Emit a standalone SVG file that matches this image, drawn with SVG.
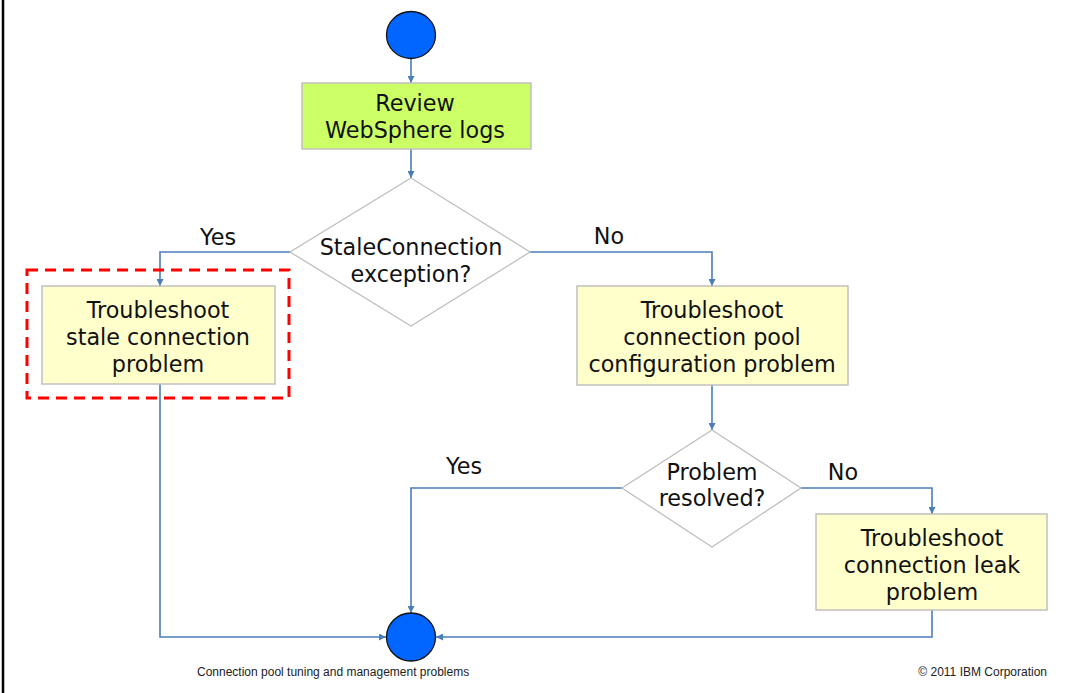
<svg xmlns="http://www.w3.org/2000/svg" width="1072" height="693" viewBox="0 0 1072 693">
<style>
.t{font-family:"DejaVu Sans","Verdana",sans-serif;font-size:22.3px;fill:#111;text-anchor:middle}
.f{font-family:"Liberation Sans",Arial,sans-serif;font-size:12px;fill:#222}
.box{fill:#ffffcc;stroke:#c0c0c0;stroke-width:1.5}
.dia{fill:#fff;stroke:#bfbfbf;stroke-width:1.3}
.term{fill:#0066ff;stroke:#111;stroke-width:1.3}
.c{fill:none;stroke:#4a7ebb;stroke-width:1.6}
</style>
<defs>
<marker id="a" viewBox="0 0 10 10" refX="10" refY="5" markerWidth="7" markerHeight="7" markerUnits="userSpaceOnUse" orient="auto">
<path d="M0,0 L10,5 L0,10 z" fill="#4a7ebb"/>
</marker>
</defs>
<rect width="1072" height="693" fill="#fff"/>
<line x1="3" y1="0" x2="3" y2="693" stroke="#000" stroke-width="2.5"/>

<g id="connectors">
<path class="c" d="M411,58 V83" marker-end="url(#a)"/>
<path class="c" d="M411,149 V178" marker-end="url(#a)"/>
<path class="c" d="M290,252 H160 V286" marker-end="url(#a)"/>
<path class="c" d="M530,252 H712 V286" marker-end="url(#a)"/>
<path class="c" d="M712,385 V430" marker-end="url(#a)"/>
<path class="c" d="M622,488 H411 V613" marker-end="url(#a)"/>
<path class="c" d="M801,488 H932 V514" marker-end="url(#a)"/>
<path class="c" d="M160,384 V637 H386" marker-end="url(#a)"/>
<path class="c" d="M932,610 V637 H436" marker-end="url(#a)"/>
<text class="t" x="218" y="245">Yes</text>
<text class="t" x="609" y="244">No</text>
<text class="t" x="464" y="474">Yes</text>
<text class="t" x="843" y="480">No</text>
</g>

<g id="start"><ellipse class="term" cx="411" cy="35" rx="24.5" ry="23.5"/></g>

<g id="review">
<rect x="302" y="83" width="229" height="66" fill="#ccff66" stroke="#c0c0c0" stroke-width="1.5"/>
<text class="t" x="415" y="111">Review</text>
<text class="t" x="415" y="138">WebSphere logs</text>
</g>

<g id="decision1">
<polygon class="dia" points="411,178 530,252 411,326 290,252"/>
<text class="t" x="411" y="255">StaleConnection</text>
<text class="t" x="411" y="282">exception?</text>
</g>

<g id="stale">
<rect x="27" y="270" width="262" height="128" fill="none" stroke="#ff0000" stroke-width="3" stroke-dasharray="11,7"/>
<rect class="box" x="42" y="286" width="233" height="98"/>
<text class="t" x="158" y="318">Troubleshoot</text>
<text class="t" x="158" y="345">stale connection</text>
<text class="t" x="158" y="372">problem</text>
</g>

<g id="pool">
<rect class="box" x="577" y="286" width="271" height="99"/>
<text class="t" x="712" y="318">Troubleshoot</text>
<text class="t" x="712" y="345">connection pool</text>
<text class="t" x="712" y="372">configuration problem</text>
</g>

<g id="decision2">
<polygon class="dia" points="712,430 801,488 712,547 622,488"/>
<text class="t" x="712" y="480">Problem</text>
<text class="t" x="712" y="506">resolved?</text>
</g>

<g id="leak">
<rect class="box" x="816" y="514" width="231" height="96"/>
<text class="t" x="932" y="546">Troubleshoot</text>
<text class="t" x="932" y="573">connection leak</text>
<text class="t" x="932" y="600">problem</text>
</g>

<g id="end"><ellipse class="term" cx="411" cy="637" rx="24.5" ry="24"/></g>

<text class="f" x="197" y="676">Connection pool tuning and management problems</text>
<text class="f" x="1047" y="676" text-anchor="end">© 2011 IBM Corporation</text>
</svg>
